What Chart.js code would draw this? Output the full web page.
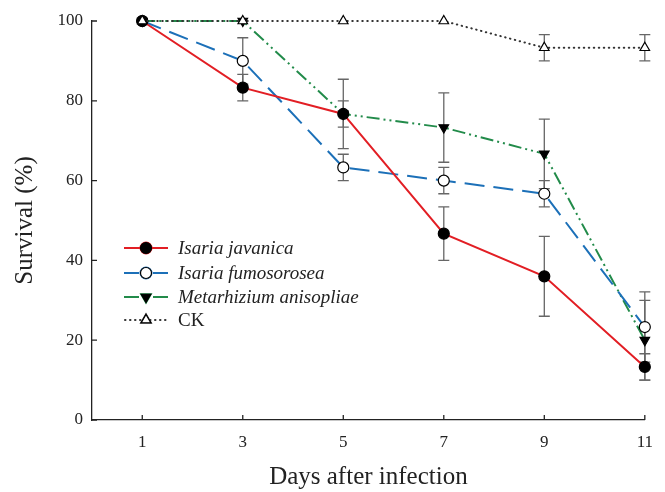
<!DOCTYPE html>
<html>
<head>
<meta charset="utf-8">
<script src="https://cdn.jsdelivr.net/npm/chart.js@4/dist/chart.umd.min.js"></script>
<style>
  html, body { margin: 0; padding: 0; background: #fff; }
  #wrap { width: 665px; height: 492px; }
</style>
</head>
<body>
<div id="wrap"><canvas id="grafico"></canvas></div>
<script>
// dias e sobrevivencia (%)
const days = [1, 3, 5, 7, 9, 11];
const javanica = [100, 83.3, 76.7, 46.7, 36, 13.3];
const javanicaErr = [0, 3.3, 8.7, 6.7, 10, 3.3];
const fumosorosea = [100, 90, 63.3, 60, 56.7, 23.3];
const fumosoroseaErr = [0, 5.8, 3.3, 3.3, 3.3, 8.8];
const anisopliae = [100, 100, 76.7, 73.3, 66.7, 20];
const anisopliaeErr = [0, 0, 3.3, 8.7, 8.7, 10];
const ck = [100, 100, 100, 100, 93.3, 93.3];
const ckErr = [0, 0, 0, 0, 3.3, 3.3];
const yTicks = [0, 20, 40, 60, 80, 100];
const seriesNames = ['Isaria javanica', 'Isaria fumosorosea', 'Metarhizium anisopliae', 'CK'];

const serif = "'Liberation Serif', 'DejaVu Serif', serif";
const toPoints = (vals) => vals.map((v, i) => ({ x: days[i], y: v }));

const errorBars = {
  id: 'errorBars',
  beforeDatasetsDraw(chart) {
    const { ctx, scales: { x, y } } = chart;
    ctx.save();
    ctx.strokeStyle = '#666';
    ctx.lineWidth = 1.3;
    chart.data.datasets.forEach(ds => {
      ds.err.forEach((e, i) => {
        if (!e) return;
        const px = x.getPixelForValue(days[i]);
        const top = y.getPixelForValue(ds.data[i].y + e);
        const bot = y.getPixelForValue(ds.data[i].y - e);
        ctx.beginPath();
        ctx.moveTo(px, top); ctx.lineTo(px, bot);
        ctx.moveTo(px - 5.5, top); ctx.lineTo(px + 5.5, top);
        ctx.moveTo(px - 5.5, bot); ctx.lineTo(px + 5.5, bot);
        ctx.stroke();
      });
    });
    ctx.restore();
  }
};

const innerTicks = {
  id: 'innerTicks',
  afterDraw(chart) {
    const { ctx, scales: { x, y } } = chart;
    ctx.save();
    ctx.strokeStyle = '#222';
    ctx.lineWidth = 1.3;
    ctx.beginPath();
    days.forEach(d => {
      const px = x.getPixelForValue(d);
      ctx.moveTo(px, y.bottom); ctx.lineTo(px, y.bottom - 5);
    });
    yTicks.forEach(t => {
      const py = y.getPixelForValue(t);
      ctx.moveTo(x.left, py); ctx.lineTo(x.left + 5, py);
    });
    ctx.stroke();
    ctx.restore();
  }
};

const legendBox = {
  id: 'legendBox',
  afterDraw(chart) {
    const { ctx } = chart;
    const rows = [248, 273, 297, 320];
    ctx.save();
    chart.data.datasets.forEach((ds, i) => {
      const yy = rows[i];
      ctx.strokeStyle = ds.borderColor;
      ctx.lineWidth = ds.borderWidth;
      ctx.lineCap = ds.borderCapStyle || 'butt';
      ctx.beginPath();
      if (i === 3) {
        ctx.setLineDash(ds.borderDash);
        ctx.moveTo(125, yy); ctx.lineTo(168, yy);
      } else if (i === 0) {
        ctx.moveTo(124, yy); ctx.lineTo(168, yy);
      } else {
        ctx.moveTo(124, yy); ctx.lineTo(139, yy);
        ctx.moveTo(153, yy); ctx.lineTo(168, yy);
      }
      ctx.stroke();
      ctx.setLineDash([]);
      Chart.helpers.drawPoint(ctx, {
        pointStyle: ds.pointStyle,
        rotation: ds.pointRotation || 0,
        radius: ds.pointRadius,
        borderWidth: 1.2
      }, 146, yy);
      ctx.fillStyle = ds.pointBackgroundColor;
      ctx.strokeStyle = '#000';
      ctx.lineWidth = 1.2;
      ctx.fill();
      ctx.stroke();
      ctx.fillStyle = '#222';
      ctx.font = (i < 3 ? 'italic ' : '') + '19px ' + serif;
      ctx.textBaseline = 'middle';
      ctx.fillText(seriesNames[i], 178, yy + 1);
    });
    ctx.restore();
  }
};

new Chart(document.getElementById('grafico'), {
  type: 'line',
  data: {
    datasets: [
      {
        label: seriesNames[0], data: toPoints(javanica), err: javanicaErr, order: 1,
        borderColor: 'rgb(226, 30, 36)', borderWidth: 2,
        pointStyle: 'circle', pointRadius: 5.5,
        pointBackgroundColor: '#000', pointBorderColor: '#000', pointBorderWidth: 1.2
      },
      {
        label: seriesNames[1], data: toPoints(fumosorosea), err: fumosoroseaErr, order: 2,
        borderColor: 'rgb(28, 112, 184)', borderWidth: 2, borderDash: [20, 9],
        pointStyle: 'circle', pointRadius: 5.5,
        pointBackgroundColor: '#fff', pointBorderColor: '#000', pointBorderWidth: 1.2
      },
      {
        label: seriesNames[2], data: toPoints(anisopliae), err: anisopliaeErr, order: 3,
        borderColor: 'rgb(34, 139, 74)', borderWidth: 2, borderDash: [13, 4, 2, 4, 2, 4],
        pointStyle: 'triangle', pointRotation: 180, pointRadius: 5.5,
        pointBackgroundColor: '#000', pointBorderColor: '#000', pointBorderWidth: 1.2
      },
      {
        label: seriesNames[3], data: toPoints(ck), err: ckErr, order: 0,
        borderColor: '#333', borderWidth: 2, borderDash: [0.5, 4.5], borderCapStyle: 'round',
        pointStyle: 'triangle', pointRadius: 5.5,
        pointBackgroundColor: '#fff', pointBorderColor: '#000', pointBorderWidth: 1.2
      }
    ]
  },
  options: {
    responsive: true,
    maintainAspectRatio: false,
    animation: false,
    layout: { padding: { left: 0, right: 19, top: 21, bottom: 0 } },
    plugins: { legend: { display: false }, tooltip: { enabled: false } },
    elements: { line: { tension: 0 } },
    datasets: { line: { clip: false } },
    scales: {
      x: {
        type: 'linear', min: 0, max: 11,
        afterBuildTicks: (s) => { s.ticks = days.map(v => ({ value: v })); },
        afterFit: (s) => { s.height = 72; },
        grid: { display: false, drawTicks: false },
        border: { color: '#222', width: 1.3 },
        ticks: { color: '#222', padding: 12, font: { family: serif, size: 17 } },
        title: { display: true, text: 'Days after infection', color: '#222',
                 padding: 0, font: { family: serif, size: 25 } }
      },
      y: {
        min: 0, max: 100,
        afterBuildTicks: (s) => { s.ticks = yTicks.map(v => ({ value: v })); },
        afterFit: (s) => { s.width = 92; },
        grid: { display: false, drawTicks: false },
        border: { color: '#222', width: 1.3 },
        ticks: { color: '#222', padding: 9, font: { family: serif, size: 17 } },
        title: { display: true, text: 'Survival (%)', color: '#222',
                 padding: { top: 10, bottom: 0 }, font: { family: serif, size: 25 } }
      }
    }
  },
  plugins: [errorBars, innerTicks, legendBox]
});
</script>
</body>
</html>
